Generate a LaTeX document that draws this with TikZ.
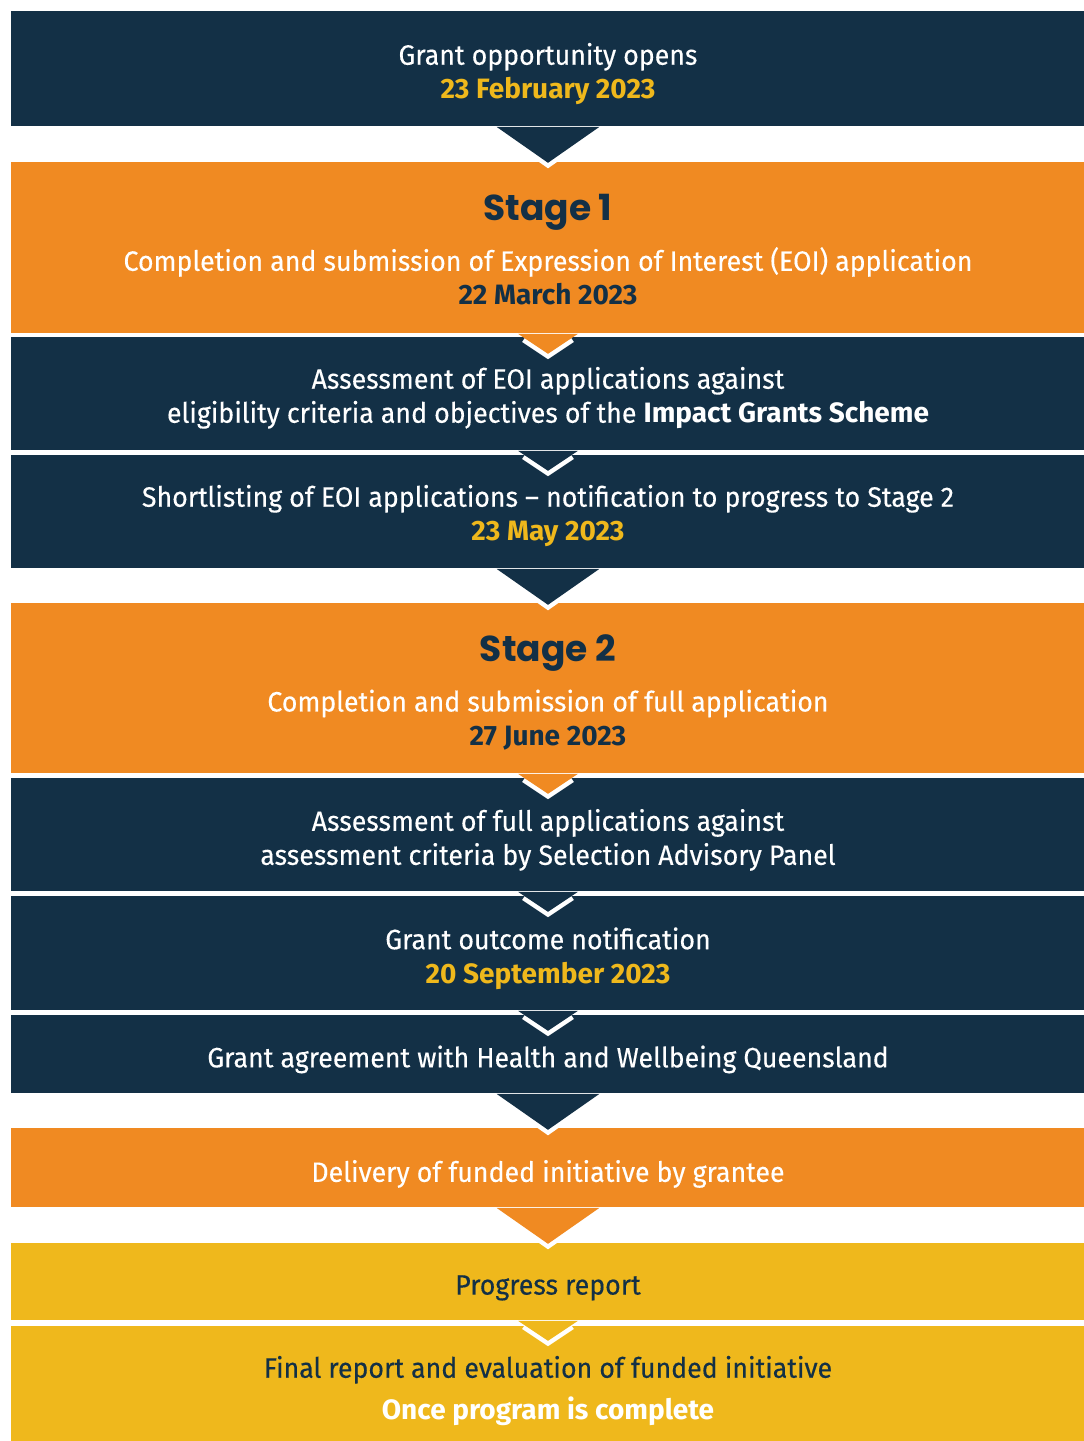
\documentclass[tikz,border=0pt]{standalone}
\usepackage{fontspec}
\setmainfont{Fira Sans}[UprightFeatures={FakeStretch=0.955,FakeBold=0.3}]
\newfontfamily\stagefont{Poppins}
\definecolor{hwqnavy}{RGB}{19,48,70}
\definecolor{hwqorange}{RGB}{240,138,34}
\definecolor{hwqyellow}{RGB}{239,184,28}
\newcommand{\stagetitle}[1]{{\stagefont\bfseries\fontsize{18}{20}\selectfont\color{hwqnavy}#1}}
\newcommand{\datetext}[2]{{\bfseries\color{#1}#2}}
\tikzset{
  band/.style={rectangle, inner sep=0pt, minimum width=537pt, anchor=north},
  darkband/.style={band, fill=hwqnavy},
  orangeband/.style={band, fill=hwqorange},
  yellowband/.style={band, fill=hwqyellow},
  steptext/.style={inner sep=0pt, align=center, text=white, font=\fontsize{14}{17}\selectfont},
  chevline/.style={white, line width=4.5pt, shorten <=4pt, shorten >=4pt},
}

\begin{document}
\begin{tikzpicture}[x=0.5pt,y=-0.5pt]
  \useasboundingbox (0,0) rectangle (1083,1441);
  % the steps, top to bottom
  \node[darkband, minimum height=57.5pt] (open) at (548,11) {};
  \node[orangeband, minimum height=85.5pt] (stage1) at (548,162) {};
  \node[darkband, minimum height=56.5pt] (eoiassess) at (548,337) {};
  \node[darkband, minimum height=56.5pt] (shortlist) at (548,455) {};
  \node[orangeband, minimum height=85pt] (stage2) at (548,603) {};
  \node[darkband, minimum height=56.5pt] (fullassess) at (548,778) {};
  \node[darkband, minimum height=57pt] (outcome) at (548,896) {};
  \node[darkband, minimum height=39pt] (agreement) at (548,1015) {};
  \node[orangeband, minimum height=39.5pt] (delivery) at (548,1128) {};
  \node[yellowband, minimum height=38.5pt] (progress) at (548,1243) {};
  \node[yellowband, minimum height=57.5pt] (final) at (548,1326) {};

  % chevrons between the steps
  \draw[chevline] ([xshift=-25.75pt]open.south) -- ([yshift=-18pt]open.south) -- ([xshift=25.75pt]open.south);
  \fill[hwqnavy] ([xshift=-25.75pt]open.south) -- ([yshift=-18pt]open.south) -- ([xshift=25.75pt]open.south) -- cycle;
  \draw[chevline] ([xshift=-15pt]stage1.south) -- ([yshift=-10pt]stage1.south) -- ([xshift=15pt]stage1.south);
  \fill[hwqorange] ([xshift=-15pt]stage1.south) -- ([yshift=-10pt]stage1.south) -- ([xshift=15pt]stage1.south) -- cycle;
  \draw[chevline] ([xshift=-15pt]eoiassess.south) -- ([yshift=-10pt]eoiassess.south) -- ([xshift=15pt]eoiassess.south);
  \fill[hwqnavy] ([xshift=-15pt]eoiassess.south) -- ([yshift=-10pt]eoiassess.south) -- ([xshift=15pt]eoiassess.south) -- cycle;
  \draw[chevline] ([xshift=-25.75pt]shortlist.south) -- ([yshift=-18pt]shortlist.south) -- ([xshift=25.75pt]shortlist.south);
  \fill[hwqnavy] ([xshift=-25.75pt]shortlist.south) -- ([yshift=-18pt]shortlist.south) -- ([xshift=25.75pt]shortlist.south) -- cycle;
  \draw[chevline] ([xshift=-15pt]stage2.south) -- ([yshift=-10pt]stage2.south) -- ([xshift=15pt]stage2.south);
  \fill[hwqorange] ([xshift=-15pt]stage2.south) -- ([yshift=-10pt]stage2.south) -- ([xshift=15pt]stage2.south) -- cycle;
  \draw[chevline] ([xshift=-15pt]fullassess.south) -- ([yshift=-10pt]fullassess.south) -- ([xshift=15pt]fullassess.south);
  \fill[hwqnavy] ([xshift=-15pt]fullassess.south) -- ([yshift=-10pt]fullassess.south) -- ([xshift=15pt]fullassess.south) -- cycle;
  \draw[chevline] ([xshift=-15pt]outcome.south) -- ([yshift=-10pt]outcome.south) -- ([xshift=15pt]outcome.south);
  \fill[hwqnavy] ([xshift=-15pt]outcome.south) -- ([yshift=-10pt]outcome.south) -- ([xshift=15pt]outcome.south) -- cycle;
  \draw[chevline] ([xshift=-25.75pt]agreement.south) -- ([yshift=-18pt]agreement.south) -- ([xshift=25.75pt]agreement.south);
  \fill[hwqnavy] ([xshift=-25.75pt]agreement.south) -- ([yshift=-18pt]agreement.south) -- ([xshift=25.75pt]agreement.south) -- cycle;
  \draw[chevline] ([xshift=-25.75pt]delivery.south) -- ([yshift=-18pt]delivery.south) -- ([xshift=25.75pt]delivery.south);
  \fill[hwqorange] ([xshift=-25.75pt]delivery.south) -- ([yshift=-18pt]delivery.south) -- ([xshift=25.75pt]delivery.south) -- cycle;
  \draw[chevline] ([xshift=-15pt]progress.south) -- ([yshift=-10pt]progress.south) -- ([xshift=15pt]progress.south);
  \fill[hwqyellow] ([xshift=-15pt]progress.south) -- ([yshift=-10pt]progress.south) -- ([xshift=15pt]progress.south) -- cycle;

  % texts of the steps
  \node[steptext] (opentext) at ([yshift=-2.5pt]open.center)
    {Grant opportunity opens\\ \datetext{hwqyellow}{23 February 2023}};
  \node[steptext] (stage1text) at ([yshift=-1pt]stage1.center)
    {\stagetitle{Stage 1}\\[8pt]
     Completion and submission of Expression of Interest (EOI) application\\
     \datetext{hwqnavy}{22 March 2023}};
  \node[steptext] (eoiassesstext) at ([yshift=-2pt]eoiassess.center)
    {Assessment of EOI applications against\\
     eligibility criteria and objectives of the \textbf{Impact Grants Scheme}};
  \node[steptext] (shortlisttext) at ([yshift=-2pt]shortlist.center)
    {Shortlisting of EOI applications -- notification to progress to Stage 2\\
     \datetext{hwqyellow}{23 May 2023}};
  \node[steptext] (stage2text) at ([yshift=-2pt]stage2.center)
    {\stagetitle{Stage 2}\\[8pt]
     Completion and submission of full application\\
     \datetext{hwqnavy}{27 June 2023}};
  \node[steptext] (fullassesstext) at ([yshift=-2.5pt]fullassess.center)
    {Assessment of full applications against\\
     assessment criteria by Selection Advisory Panel};
  \node[steptext] (outcometext) at ([yshift=-2.5pt]outcome.center)
    {Grant outcome notification\\ \datetext{hwqyellow}{20 September 2023}};
  \node[steptext] (agreementtext) at ([yshift=-2.5pt]agreement.center)
    {Grant agreement with Health and Wellbeing Queensland};
  \node[steptext] (deliverytext) at ([yshift=-3pt]delivery.center)
    {Delivery of funded initiative by grantee};
  \node[steptext, text=hwqnavy] (progresstext) at ([yshift=-3pt]progress.center)
    {Progress report};
  \node[steptext, text=hwqnavy] (finaltext) at ([yshift=-3.5pt]final.center)
    {Final report and evaluation of funded initiative\\[4pt]
     \datetext{white}{Once program is complete}};
\end{tikzpicture}
\end{document}
